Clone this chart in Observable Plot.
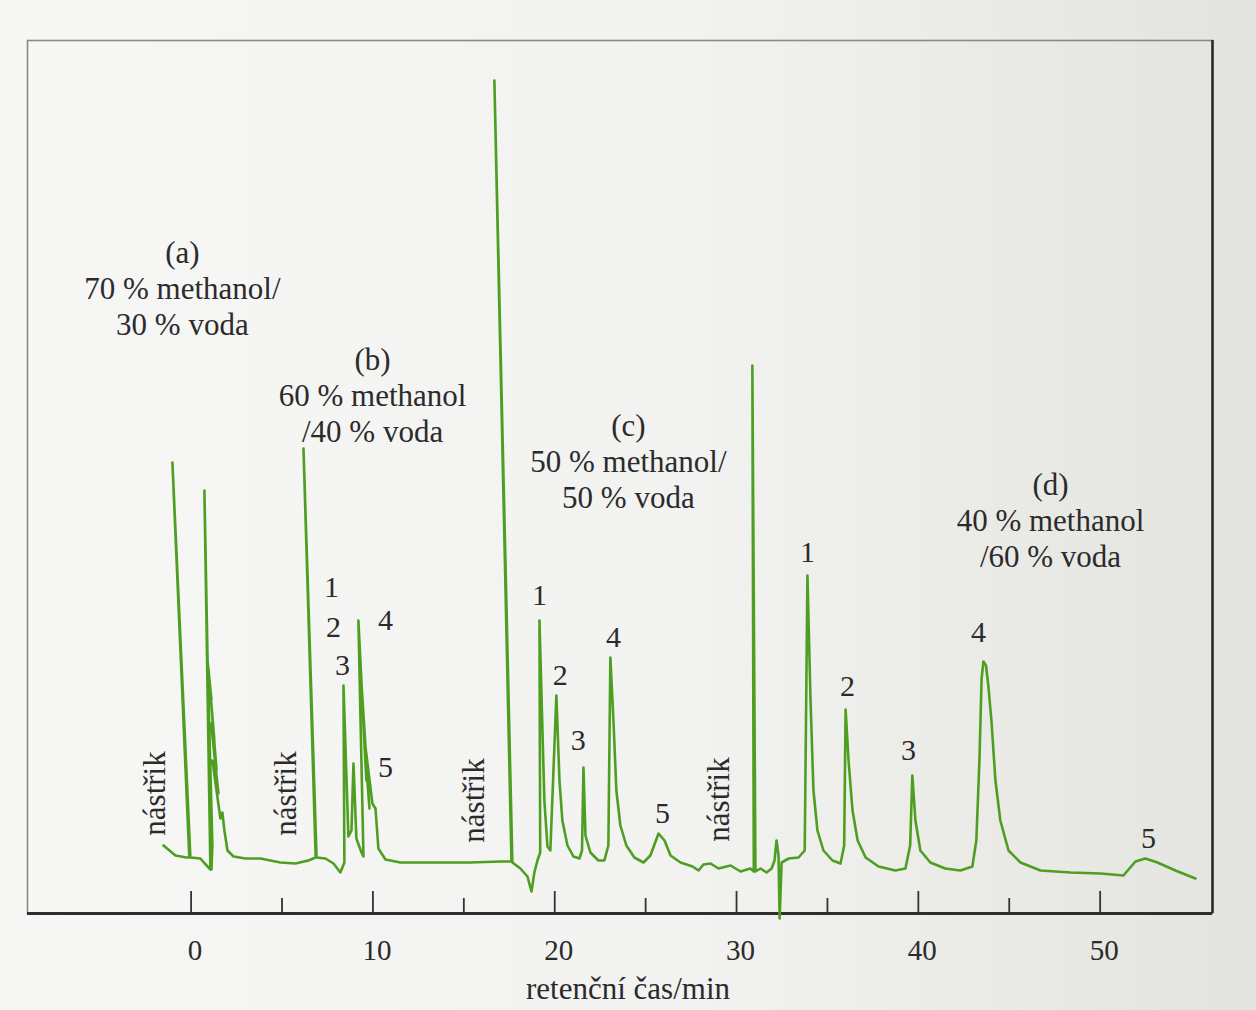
<!DOCTYPE html>
<html>
<head>
<meta charset="utf-8">
<script src="https://cdn.jsdelivr.net/npm/d3@7"></script>
<script src="https://cdn.jsdelivr.net/npm/@observablehq/plot@0.6"></script>
<style>
  html, body { margin: 0; padding: 0; }
  body { width: 1256px; height: 1010px; overflow: hidden;
         background: linear-gradient(90deg, #f7f7f6 0%, #f2f2f0 55%, #e3e3df 100%); }
  #chart svg { display: block; }
</style>
</head>
<body>
<div id="chart"></div>
<script>
// retention time (min), detector signal (arbitrary units)
const trace = [
  [-1.52, 6.8], [-0.86, 5.8], [-0.26, 5.6], [-0.10, 5.6], [-1.03, 45.1], [-0.04, 5.6],
  [0.51, 5.5], [0.75, 5.0], [1.06, 4.4], [0.73, 42.3], [1.12, 4.4],
  [1.17, 6.8], [0.90, 25.3], [1.12, 21.3], [0.95, 24.5], [1.28, 17.3], [1.02, 23.0],
  [1.40, 14.3], [1.10, 19.0], [1.50, 12.0], [1.17, 15.3], [1.61, 9.5], [1.72, 10.1], [1.83, 8.3], [2.00, 6.3],
  [2.33, 5.7], [2.99, 5.5], [3.81, 5.5], [4.91, 5.1], [5.74, 5.0], [6.45, 5.3], [6.85, 5.6],
  [6.18, 46.5], [6.90, 5.6],
  [7.39, 5.5], [7.83, 5.0], [8.21, 4.1], [8.43, 5.1], [8.38, 22.8], [8.65, 7.7],
  [8.82, 8.3], [8.93, 15.0], [9.09, 7.5], [9.37, 6.1], [9.48, 5.7],
  [9.20, 29.3], [9.42, 21.3], [9.26, 26.5], [9.64, 13.3], [9.37, 23.0], [9.81, 10.5],
  [9.50, 18.0], [9.97, 11.0], [10.14, 10.5], [10.30, 6.5], [10.69, 5.4], [11.51, 5.1],
  [13.17, 5.1], [15.37, 5.1], [17.02, 5.2], [17.62, 5.2],
  [16.68, 83.3], [17.67, 5.1],
  [18.11, 4.5], [18.50, 3.7], [18.72, 2.2], [18.88, 4.1], [19.05, 5.3], [19.20, 6.1],
  [19.16, 29.3], [19.43, 11.3], [19.60, 6.7], [19.76, 6.3],
  [20.09, 21.8], [20.26, 13.3], [20.42, 9.3], [20.70, 6.8], [21.03, 5.7], [21.36, 5.5], [21.50, 6.3],
  [21.58, 14.6], [21.69, 7.8], [21.96, 6.1], [22.40, 5.3], [22.73, 5.3], [22.95, 6.8],
  [23.06, 25.6], [23.23, 19.3], [23.39, 12.3], [23.61, 8.8], [23.94, 6.8], [24.38, 5.6],
  [24.88, 5.1], [25.26, 5.8],
  [25.71, 8.0], [26.04, 7.3], [26.37, 5.8], [26.92, 5.1], [27.58, 4.7], [27.91, 4.3],
  [28.18, 4.9], [28.57, 5.0], [29.01, 4.5], [29.67, 4.8], [30.22, 4.2], [30.76, 4.5], [30.95, 4.2],
  [30.87, 54.8], [31.04, 4.2],
  [31.32, 4.5], [31.65, 4.1], [31.93, 4.5], [32.09, 5.3], [32.20, 7.3], [32.31, 5.8],
  [32.37, -0.5], [32.48, 5.1], [32.87, 5.5], [33.41, 5.6], [33.75, 6.3],
  [33.90, 33.8], [34.07, 21.3], [34.23, 12.3], [34.45, 8.3], [34.78, 6.3], [35.28, 5.3],
  [35.72, 5.0], [35.92, 6.8],
  [36.00, 20.4], [36.16, 15.3], [36.38, 10.3], [36.66, 7.3], [37.10, 5.6], [37.81, 4.7],
  [38.74, 4.3], [39.29, 4.5], [39.55, 6.8],
  [39.67, 13.8], [39.84, 9.3], [40.11, 6.3], [40.66, 5.1], [41.48, 4.5], [42.31, 4.3],
  [42.97, 4.7], [43.19, 7.3], [43.36, 15.3], [43.48, 23.5],
  [43.58, 25.2], [43.72, 24.8], [43.85, 22.8], [44.02, 19.3], [44.24, 13.3], [44.51, 9.3], [44.96, 6.3],
  [45.62, 5.1], [46.72, 4.3], [48.37, 4.1], [50.02, 4.0], [51.28, 3.8],
  [51.94, 5.2], [52.49, 5.5], [53.15, 5.1], [54.14, 4.3], [55.24, 3.5]
];

const majorTicks = [0, 10, 20, 30, 40, 50];
const minorTicks = [5, 15, 25, 35, 45];
const xDomain = [-9.0, 56.18];
const yDomain = [0, 87.3];

// peak numbers: label, time, height, group
const peakText  = ["1", "2", "3", "4", "5",  "1", "2", "3", "4", "5",  "1", "2", "3", "4", "5"];
const peakTime  = [7.72, 7.83, 8.33, 10.69, 10.69,  19.16, 20.31, 21.30, 23.23, 25.93,  33.90, 36.10, 39.46, 43.31, 52.66];
const peakLevel = [32.6, 28.6, 24.8, 29.3, 14.6,  31.8, 23.8, 17.3, 27.6, 10.0,  36.1, 22.7, 16.3, 28.1, 7.5];
const peakGroup = ["b","b","b","b","b", "c","c","c","c","c", "d","d","d","d","d"];

// mobile phase captions
const condText  = ["(a)\n70 % methanol/\n30 % voda", "(b)\n60 % methanol\n/40 % voda",
                   "(c)\n50 % methanol/\n50 % voda", "(d)\n40 % methanol\n/60 % voda"];
const condTime  = [-0.48, 9.98, 24.05, 47.27];
const condLevel = [62.6, 51.9, 45.3, 39.4];
const condBold  = [false, false, false, true];

// injection marks
const injText  = "nástřik";
const injTime  = [-1.96, 5.24, 15.59, 29.06];
const injLevel = [12.0, 12.0, 11.3, 11.4];

const xLabel = "retenční čas/min";

const peaks = peakText.map((s, i) => ({s, t: peakTime[i], v: peakLevel[i], g: peakGroup[i]}));
const conds = condText.map((s, i) => ({s, t: condTime[i], v: condLevel[i], b: condBold[i]}));
const injs = injTime.map((t, i) => ({s: injText, t, v: injLevel[i]}));

const W = 1256, H = 1010;
const mTop = 40, mBottom = 97, mLeft = 27, mRight = 44;
const plotH = H - mTop - mBottom;
const font = "Liberation Serif";
const ink = "#2b2b2b";

const chart = Plot.plot({
  width: W, height: H,
  marginTop: mTop, marginBottom: mBottom, marginLeft: mLeft, marginRight: mRight,
  style: {background: "transparent", fontFamily: font, color: ink, overflow: "visible"},
  x: {domain: xDomain, ticks: majorTicks, label: null},
  y: {domain: yDomain, axis: null},
  marks: [
    Plot.frame({stroke: "#8a8a88", strokeWidth: 1.6}),
    Plot.ruleX([xDomain[1]], {stroke: "#262626", strokeWidth: 2.5}),
    Plot.ruleX(majorTicks, {stroke: "#333", strokeWidth: 1.8, insetTop: plotH - 22}),
    Plot.ruleX(minorTicks, {stroke: "#333", strokeWidth: 1.8, insetTop: plotH - 15}),
    Plot.ruleY([0], {stroke: "#2e2e2e", strokeWidth: 3}),
    Plot.axisX({ticks: majorTicks, tickSize: 0, tickPadding: 26, fontSize: 29, dx: 4,
                tickFormat: d => String(d), label: null, fill: ink, fontFamily: font}),
    Plot.line(trace, {x: d => d[0], y: d => d[1], stroke: "#4e9e22", strokeWidth: 2.6,
                      strokeLinejoin: "round", strokeLinecap: "round", curve: "linear"}),
    Plot.text(peaks, {x: "t", y: "v", text: "s", fontSize: 30, fill: ink, fontFamily: font,
                      fontWeight: d => d.g === "d" ? "bold" : "normal"}),
    Plot.text(conds, {x: "t", y: "v", text: "s", fontSize: 31, lineHeight: 1.15, fill: ink,
                      fontFamily: font, fontWeight: d => d.b ? "bold" : "normal"}),
    Plot.text(injs, {x: "t", y: "v", text: "s", rotate: -90, fontSize: 31, fill: ink, fontFamily: font}),
    Plot.text([xLabel], {frameAnchor: "bottom", dy: 85, dx: 8, fontSize: 31, fill: ink, fontFamily: font})
  ]
});
document.getElementById("chart").append(chart);
</script>
</body>
</html>
